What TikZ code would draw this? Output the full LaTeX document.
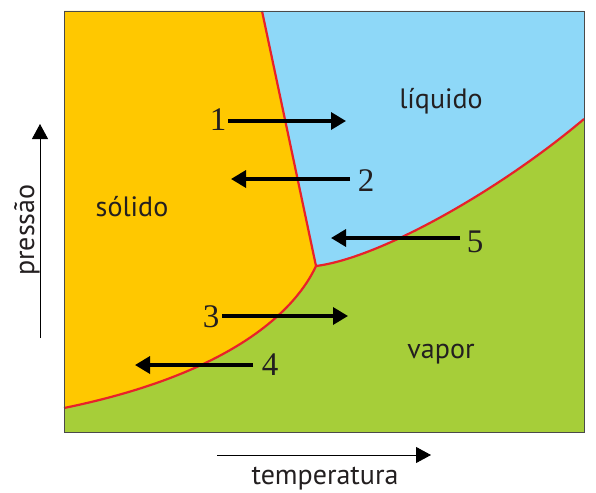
\documentclass[tikz,border=0pt]{standalone}
\usepackage{fontspec}
\setmainfont{Liberation Serif}
\newfontfamily\labelfont{PT Sans}
\usetikzlibrary{arrows.meta}
\definecolor{solidc}{HTML}{FFC800}
\definecolor{liquidc}{HTML}{8ED8F8}
\definecolor{vaporc}{HTML}{A6CE39}
\definecolor{redline}{HTML}{E8212A}
\definecolor{boxgray}{HTML}{4A4A4A}
\definecolor{txt}{HTML}{231F20}
\tikzset{
  phaseline/.style={draw=redline, line width=2.2pt, line join=round},
  bigarrow/.style={draw=black, line width=3.4pt, -{Triangle[length=15pt,width=17pt]}},
  axisarrow/.style={draw=black, line width=0.9pt, -{Triangle[length=15pt,width=16pt]}},
  phaselabel/.style={font=\labelfont\fontsize{28}{28}\selectfont, text=txt, inner sep=0pt, anchor=base},
  numlabel/.style={font=\fontsize{33}{33}\selectfont, text=txt, inner sep=0pt},
}
\begin{document}
\begin{tikzpicture}[x=1pt,y=-1pt]
\useasboundingbox (0,0) rectangle (596,492);
% corners and key points
\coordinate (TL) at (64,11);
\coordinate (TR) at (584,11);
\coordinate (BR) at (584,432);
\coordinate (BL) at (64,432);
\coordinate (T) at (316,266);
\coordinate (SLtop) at (262,11);
\coordinate (LVend) at (584,119);
\coordinate (SVend) at (64,408);
% regions
\fill[vaporc] (TL) rectangle (BR);
\fill[solidc] (TL) -- (SLtop) -- (T) .. controls (298,305) and (240,372) .. (SVend) -- cycle;
\fill[liquidc] (SLtop) -- (TR) -- (LVend) .. controls (500,190) and (380,258) .. (T) -- cycle;
% phase boundaries
\draw[phaseline] (SLtop) -- (T);
\draw[phaseline] (T) .. controls (380,258) and (500,190) .. (LVend);
\draw[phaseline] (T) .. controls (298,305) and (240,372) .. (SVend);
% frame
\draw[boxgray, line width=0.8pt] (TL) rectangle (BR);
% phase labels
\node[phaselabel] (liq) at (441,108) {líquido};
\node[phaselabel] (sol) at (132,216) {sólido};
\node[phaselabel] (vap) at (441,358) {vapor};
% numbers
\node[numlabel] (n1) at (218,120) {1};
\node[numlabel] (n2) at (366,181) {2};
\node[numlabel] (n5) at (475,242) {5};
\node[numlabel] (n3) at (211,317) {3};
\node[numlabel] (n4) at (270,365) {4};
% arrow endpoints
\coordinate (a1s) at (228,121); \coordinate (a1e) at (346,121);
\coordinate (a2s) at (350,179); \coordinate (a2e) at (231,179);
\coordinate (a5s) at (460,238); \coordinate (a5e) at (331,238);
\coordinate (a3s) at (222,316); \coordinate (a3e) at (348,316);
\coordinate (a4s) at (253,365); \coordinate (a4e) at (135,365);
\draw[bigarrow] (a1s) -- (a1e);
\draw[bigarrow] (a2s) -- (a2e);
\draw[bigarrow] (a5s) -- (a5e);
\draw[bigarrow] (a3s) -- (a3e);
\draw[bigarrow] (a4s) -- (a4e);
% axes
\coordinate (px0) at (40,338); \coordinate (px1) at (40,124);
\coordinate (tx0) at (217,455); \coordinate (tx1) at (431,455);
\draw[axisarrow] (px0) -- (px1);
\draw[axisarrow] (tx0) -- (tx1);
\node[phaselabel, rotate=90] (pres) at (34,230) {pressão};
\node[phaselabel] (temp) at (325,484) {temperatura};
\end{tikzpicture}
\end{document}
